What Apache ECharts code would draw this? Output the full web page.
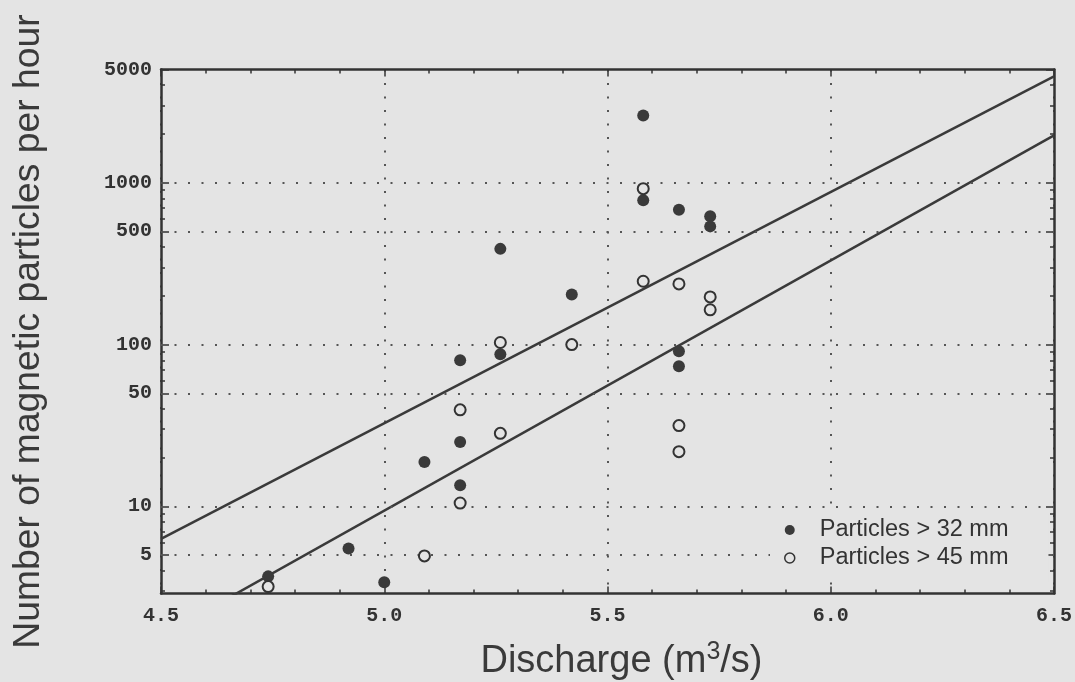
<!DOCTYPE html>
<html><head><meta charset="utf-8">
<script src="https://cdn.jsdelivr.net/npm/echarts@6/dist/echarts.min.js"></script>
<style>html,body{margin:0;padding:0;background:#e4e4e4}#c{width:1075px;height:682px}</style>
</head><body><div id="c"></div>
<script>
// ---- data ----
const xTickValues = [4.5, 5.0, 5.5, 6.0, 6.5];
const yTickValues = [5, 10, 50, 100, 500, 1000, 5000];
const yMinorTicks = [3, 4, 6, 7, 8, 9, 20, 30, 40, 60, 70, 80, 90, 200, 300, 400, 600, 700, 800, 900, 2000, 3000, 4000];
const gridYValues = [5, 10, 50, 100, 500, 1000];

const p32x = [4.74, 4.92, 5.00, 5.09, 5.17, 5.17, 5.17, 5.26, 5.26, 5.42, 5.58, 5.58, 5.66, 5.66, 5.66, 5.73, 5.73];
const p32y = [3.7, 5.5, 3.4, 18.8, 13.5, 25, 80, 87, 390, 204, 2600, 780, 680, 91, 73.5, 620, 537];

const p45x = [4.74, 5.09, 5.17, 5.17, 5.26, 5.26, 5.42, 5.58, 5.58, 5.66, 5.66, 5.66, 5.73, 5.73];
const p45y = [3.2, 4.95, 10.5, 39.5, 28.3, 103, 100, 918, 246, 237, 31.6, 21.8, 197, 164];

const fitX = [4.5, 6.5];
const fit32 = [6.3, 4530];
const fit45 = [1.59, 1960];

const name32 = 'Particles > 32 mm';
const name45 = 'Particles > 45 mm';

// ---- chart ----
const ink = '#333';
const bg = '#e4e4e4';
const dotted = { color: '#555', width: 2, type: [2, 11.5] };
const monoLabel = { fontFamily: 'Liberation Mono', fontWeight: 'bold', fontSize: 20, color: ink };

const pairs = (xs, ys) => xs.map((x, i) => [x, ys[i]]);

const xBase = {
  type: 'value', min: 4.5, max: 6.5, interval: 0.5,
  axisLine: { show: true, onZero: false, lineStyle: { color: ink, width: 2.5 } },
  axisTick: { show: true, inside: true, length: 7, lineStyle: { color: ink, width: 1.5 } },
  minorTick: { show: true, splitNumber: 5, length: 4, lineStyle: { color: ink, width: 1.5 } },
  minorSplitLine: { show: false }
};
const yBase = {
  type: 'log', logBase: 10, min: 2.9, max: 5000,
  axisLine: { show: true, onZero: false, lineStyle: { color: ink, width: 2.5 } },
  splitLine: { show: false },
  minorTick: { show: false }
};

const option = {
  backgroundColor: bg,
  animation: false,
  grid: { left: 161, right: 21, top: 69.5, bottom: 88.5, containLabel: false, outerBoundsMode: 'none' },
  legend: {
    data: [
      { name: name32, itemStyle: { color: '#3a3a3a' } },
      { name: name45, itemStyle: { color: bg, borderColor: '#333', borderWidth: 1.5 } }
    ],
    orient: 'vertical',
    left: 770, top: 514,
    padding: [4, 40, 12, 14],
    backgroundColor: bg,
    z: 20,
    itemWidth: 10, itemHeight: 10, itemGap: 4,
    textStyle: { fontFamily: 'Liberation Sans', fontSize: 23.5, color: ink, lineHeight: 22, padding: [0, 0, 0, 20] },
    selectedMode: false
  },
  xAxis: [
    Object.assign({}, xBase, {
      position: 'bottom',
      axisLabel: Object.assign({ margin: 12, formatter: v => v.toFixed(1), customValues: xTickValues }, monoLabel),
      splitLine: { show: true, lineStyle: dotted },
      name: '{a|Discharge (m}{s|3}{a|/s)}',
      nameLocation: 'middle', nameGap: 46,
      nameTextStyle: {
        padding: [0, 0, 0, 28],
        rich: {
          a: { fontFamily: 'Liberation Sans', fontSize: 38, color: '#3a3a3a', lineHeight: 44 },
          s: { fontFamily: 'Liberation Sans', fontSize: 25, color: '#3a3a3a', verticalAlign: 'top', lineHeight: 44 }
        }
      }
    }),
    Object.assign({}, xBase, {
      position: 'top',
      axisLabel: { show: false },
      splitLine: { show: false }
    })
  ],
  yAxis: [
    Object.assign({}, yBase, {
      position: 'left',
      axisTick: { show: true, inside: true, length: 8, customValues: yTickValues, lineStyle: { color: ink, width: 1.5 } },
      axisLabel: Object.assign({ margin: 9, customValues: yTickValues, formatter: v => String(Math.round(v)) }, monoLabel),
      name: 'Number of magnetic particles per hour',
      nameLocation: 'middle', nameGap: 114,
      nameTextStyle: { fontFamily: 'Liberation Sans', fontSize: 37.3, color: '#3a3a3a' }
    }),
    Object.assign({}, yBase, {
      position: 'left',
      axisLine: { show: false },
      axisTick: { show: true, inside: true, length: 4, customValues: yMinorTicks, lineStyle: { color: ink, width: 1.5 } },
      axisLabel: { show: false }
    }),
    Object.assign({}, yBase, {
      position: 'right',
      axisTick: { show: true, inside: true, length: 8, customValues: yTickValues, lineStyle: { color: ink, width: 1.5 } },
      axisLabel: { show: false }
    }),
    Object.assign({}, yBase, {
      position: 'right',
      axisLine: { show: false },
      axisTick: { show: true, inside: true, length: 4, customValues: yMinorTicks, lineStyle: { color: ink, width: 1.5 } },
      axisLabel: { show: false }
    })
  ],
  series: [
    {
      name: 'grid', type: 'line', data: [], xAxisIndex: 0, yAxisIndex: 0, silent: true,
      markLine: {
        silent: true, symbol: 'none', label: { show: false },
        lineStyle: dotted,
        data: gridYValues.map(v => ({ yAxis: v }))
      }
    },
    {
      name: 'fit32', type: 'line', data: pairs(fitX, fit32), showSymbol: false, symbol: 'none',
      lineStyle: { color: '#3a3a3a', width: 2.5 }, clip: true, z: 3
    },
    {
      name: 'fit45', type: 'line', data: pairs(fitX, fit45), showSymbol: false, symbol: 'none',
      lineStyle: { color: '#3a3a3a', width: 2.5 }, clip: true, z: 3
    },
    {
      name: name32, type: 'scatter', data: pairs(p32x, p32y),
      symbol: 'circle', symbolSize: 12,
      itemStyle: { color: '#3a3a3a', opacity: 1 }, z: 5
    },
    {
      name: name45, type: 'scatter', data: pairs(p45x, p45y),
      symbol: 'circle', symbolSize: 11,
      itemStyle: { color: bg, borderColor: '#333', borderWidth: 2, opacity: 1 }, z: 6
    }
  ]
};

const chart = echarts.init(document.getElementById('c'), null, { renderer: 'canvas' });
chart.setOption(option);
</script>
</body></html>
